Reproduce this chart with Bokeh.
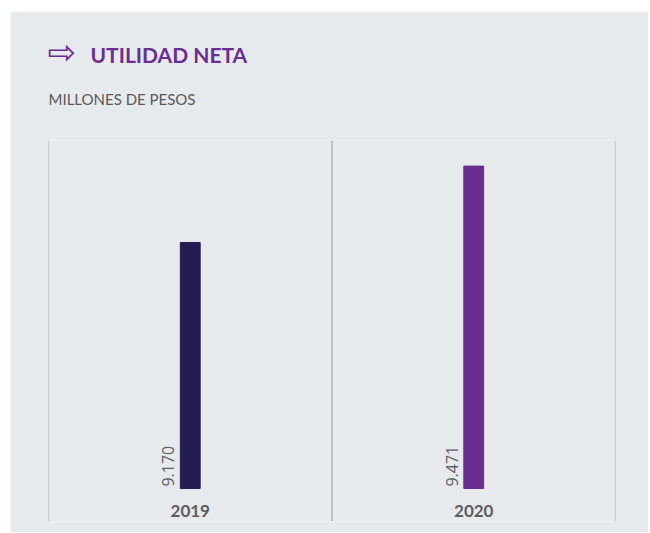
from math import pi
from bokeh.plotting import figure
from bokeh.models import ColumnDataSource, FactorRange, Range1d, Span, Title
from bokeh.embed import file_html
from bokeh.resources import INLINE
from bokeh.core.properties import value

# ---- data ----
years = ["2019", "2020"]
utilidad = [9170, 9471]          # millones de pesos
bar_colors = ["#231c51", "#6b2d91"]
value_labels = [f"{v:,}".replace(",", ".") for v in utilidad]

BASE = 8200
BG = "#e7eaed"
PURPLE = "#6b2d91"

src = ColumnDataSource(dict(
    year=years, val=utilidad, color=bar_colors, label=value_labels,
    base=[BASE] * len(years),
))

p = figure(
    width=638, height=521,
    x_range=FactorRange(*years, range_padding=0),
    y_range=Range1d(8070, 9572),
    output_backend="svg", toolbar_location=None,
    x_axis_location=None, y_axis_location=None, title_location=None,
    min_border_left=38, min_border_right=33, min_border_top=129, min_border_bottom=11,
    margin=(11, 0, 0, 10),
)
p.background_fill_color = BG
p.border_fill_color = BG
p.outline_line_color = None
p.xgrid.visible = False
p.ygrid.visible = False

for loc in range(len(years) + 1):
    p.add_layout(Span(location=loc, dimension="height", line_color="#a7a9ac", line_width=1.2))

p.vbar(x="year", top="val", bottom="base", width=0.07, color="color", source=src)

p.text(x="year", y="base", text="year", y_offset=22, text_align="center",
       text_baseline="middle", text_font=value("Lato"), text_font_style="bold",
       text_font_size="17px", text_color="#5b5d61", source=src)

p.text(x="year", y="base", text="label", angle=pi / 2, x_offset=-22, y_offset=-2,
       text_align="left", text_baseline="middle", text_font=value("Open Sans"),
       text_font_size="16px", text_color="#5c6067", source=src)

sub = Title(text="MILLONES DE PESOS", text_font="Lato", text_font_size="15px",
            text_font_style="normal", text_color="#58595b", standoff=66, align="left")
main = Title(text="UTILIDAD NETA", text_font="Lato", text_font_size="21px",
             text_font_style="bold", text_color=PURPLE, standoff=-24, align="left",
             offset=42)
arrow = Title(text="\u21e8", text_font="DejaVu Sans", text_font_size="34px",
              text_font_style="normal", text_color=PURPLE, standoff=-40, align="left",
              offset=-1)
p.add_layout(sub, "above")
p.add_layout(main, "above")
p.add_layout(arrow, "above")

open("out.html", "w").write(file_html(p, INLINE))
